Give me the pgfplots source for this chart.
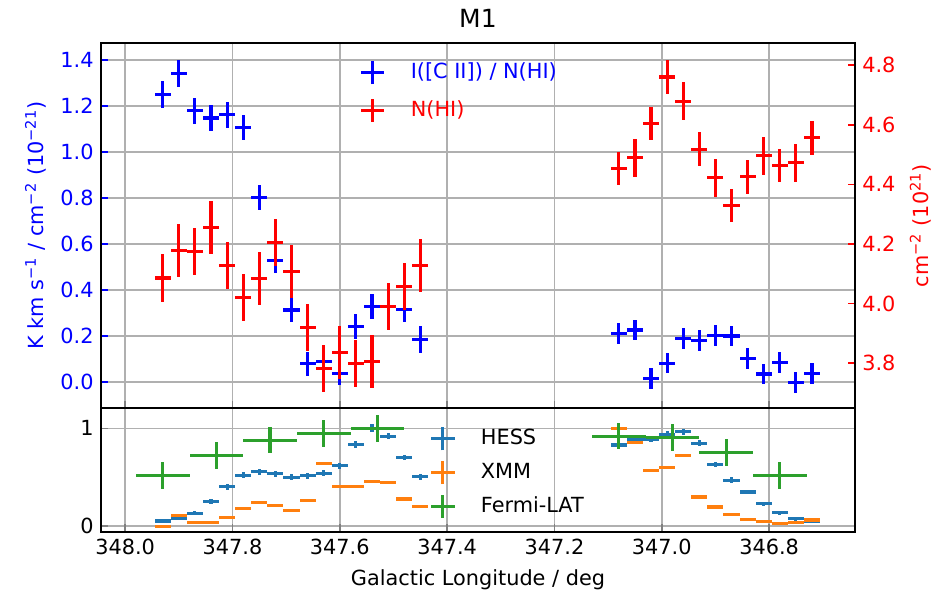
\documentclass[border=0pt]{standalone}
\usepackage{fontspec}
\setmainfont{DejaVu Sans}
\usepackage{pgfplots}
\pgfplotsset{compat=1.18}
\usepackage{pgfplotstable}

\definecolor{tabblue}{HTML}{1F77B4}
\definecolor{taborange}{HTML}{FF7F0E}
\definecolor{tabgreen}{HTML}{2CA02C}
\definecolor{gridgray}{HTML}{B0B0B0}

% I([C II]) / N(HI), left axis of the upper panel
\pgfplotstableread{
x      y      ex     ey
347.93 1.249  0.015  0.058
347.90 1.343  0.015  0.058
347.87 1.180  0.015  0.056
347.84 1.148  0.015  0.056
347.81 1.162  0.015  0.056
347.78 1.107  0.015  0.056
347.75 0.803  0.015  0.054
347.72 0.529  0.015  0.054
347.69 0.314  0.015  0.053
347.66 0.080  0.015  0.053
347.63 0.090  0.015  0.053
347.60 0.039  0.015  0.053
347.57 0.242  0.015  0.055
347.54 0.329  0.015  0.055
347.51 0.329  0.015  0.055
347.48 0.317  0.015  0.055
347.45 0.187  0.015  0.058
347.08 0.213  0.015  0.045
347.05 0.227  0.015  0.045
347.02 0.017  0.015  0.045
346.99 0.083  0.015  0.045
346.96 0.191  0.015  0.045
346.93 0.181  0.015  0.045
346.90 0.204  0.015  0.045
346.87 0.201  0.015  0.045
346.84 0.104  0.015  0.045
346.81 0.036  0.015  0.045
346.78 0.085  0.015  0.045
346.75 0.000  0.015  0.045
346.72 0.039  0.015  0.045
}\cii

% N(HI), right axis
\pgfplotstableread{
x      y      ex     ey
347.93 4.086  0.015  0.079
347.90 4.177  0.015  0.089
347.87 4.175  0.015  0.079
347.84 4.256  0.015  0.089
347.81 4.127  0.015  0.079
347.78 4.021  0.015  0.079
347.75 4.085  0.015  0.089
347.72 4.205  0.015  0.079
347.69 4.109  0.015  0.089
347.66 3.921  0.015  0.079
347.63 3.783  0.015  0.079
347.60 3.836  0.015  0.089
347.57 3.798  0.015  0.079
347.54 3.805  0.015  0.089
347.51 3.990  0.015  0.079
347.48 4.057  0.015  0.079
347.45 4.129  0.015  0.089
347.08 4.453  0.015  0.056
347.05 4.489  0.015  0.064
347.02 4.604  0.015  0.056
346.99 4.760  0.015  0.056
346.96 4.679  0.015  0.064
346.93 4.518  0.015  0.056
346.90 4.422  0.015  0.064
346.87 4.330  0.015  0.056
346.84 4.425  0.015  0.056
346.81 4.496  0.015  0.064
346.78 4.464  0.015  0.056
346.75 4.473  0.015  0.064
346.72 4.556  0.015  0.056
}\nhi

\pgfplotstableread{
x      y      ex     ey
347.93 0.052  0.015  0.020
347.90 0.083  0.015  0.020
347.87 0.130  0.015  0.020
347.84 0.250  0.015  0.025
347.81 0.401  0.015  0.030
347.78 0.521  0.015  0.030
347.75 0.555  0.015  0.030
347.72 0.534  0.015  0.030
347.69 0.500  0.015  0.030
347.66 0.514  0.015  0.030
347.63 0.541  0.015  0.030
347.60 0.616  0.015  0.030
347.57 0.839  0.015  0.035
347.54 1.000  0.015  0.040
347.51 0.921  0.015  0.035
347.48 0.702  0.015  0.030
347.45 0.503  0.015  0.030
347.08 0.829  0.015  0.030
347.05 0.887  0.015  0.030
347.02 0.887  0.015  0.030
346.99 0.938  0.015  0.030
346.96 0.965  0.015  0.030
346.93 0.846  0.015  0.030
346.90 0.630  0.015  0.030
346.87 0.469  0.015  0.030
346.84 0.349  0.015  0.020
346.81 0.230  0.015  0.020
346.78 0.138  0.015  0.020
346.75 0.076  0.015  0.020
346.72 0.051  0.015  0.020
}\hess

\pgfplotstableread{
x      y      ex     ey
347.93 0.000  0.015  0
347.90 0.110  0.015  0
347.87 0.041  0.015  0
347.84 0.035  0.015  0
347.81 0.086  0.015  0
347.78 0.178  0.015  0
347.75 0.243  0.015  0
347.72 0.212  0.015  0
347.69 0.161  0.015  0
347.66 0.260  0.015  0
347.63 0.637  0.015  0
347.60 0.408  0.015  0
347.57 0.401  0.015  0
347.54 0.456  0.015  0
347.51 0.442  0.015  0
347.48 0.277  0.015  0
347.45 0.202  0.015  0
347.08 1.000  0.015  0
347.05 0.856  0.015  0
347.02 0.569  0.015  0
346.99 0.603  0.015  0
346.96 0.726  0.015  0
346.93 0.298  0.015  0
346.90 0.195  0.015  0
346.87 0.123  0.015  0
346.84 0.069  0.015  0
346.81 0.051  0.015  0
346.78 0.031  0.015  0
346.75 0.041  0.015  0
346.72 0.062  0.015  0
}\xmm

\pgfplotstableread{
x      y      ex     ey
347.93 0.520  0.05   0.137
347.83 0.726  0.05   0.137
347.73 0.880  0.05   0.137
347.63 0.949  0.05   0.137
347.53 1.000  0.05   0.137
347.08 0.921  0.05   0.137
346.98 0.907  0.05   0.137
346.88 0.753  0.05   0.137
346.78 0.520  0.05   0.137
}\fermi

\pgfplotsset{
  m1/.style={
    scale only axis, width=361.9pt,
    xmin=346.64, xmax=348.045, x dir=reverse,
    xtick={346.8,347.0,347.2,347.4,347.6,347.8,348.0},
    tick align=inside, major tick length=3.5pt,
    tick style={line width=0.8pt},
    axis line style={line width=0.8pt},
    major grid style={line width=0.8pt, gridgray},
    /pgf/number format/assume math mode=true,
    legend cell align=left,
  },
  crossleg/.style={legend image code/.code={
    \path[draw=none] (0pt,0pt) -- (24.8pt,0pt);
    \draw[line width=1.5pt, draw=#1] (0.3cm,-5.6pt)--(0.3cm,5.6pt) (0.3cm-5.6pt,0pt)--(0.3cm+5.6pt,0pt);}},
  errs/.style={draw=none, mark=none,
    error bars/x dir=both, error bars/x explicit,
    error bars/y dir=both, error bars/y explicit,
    error bars/error mark=none,
    error bars/error bar style={line width=1.5pt, draw=#1, solid}},
}

\begin{document}
\begin{tikzpicture}
\begin{axis}[m1, name=top, at={(0,0)}, anchor=south west, height=175.2pt,
  ymin=-0.112, ymax=1.474, ytick={0,0.2,0.4,0.6,0.8,1.0,1.2,1.4},
  xticklabels={}, xtick pos=bottom, ytick pos=left,
  grid=major,
  y tick label style={blue, /pgf/number format/.cd, fixed, fixed zerofill, precision=1},
  y tick style={blue},
  ylabel={K km s\textsuperscript{−1} / cm\textsuperscript{−2} (10\textsuperscript{−21})},
  ylabel style={blue},
  title={M1}, title style={font=\fontsize{12}{14}\selectfont, yshift=-2.3pt},
]
\addplot[errs=blue] table[x=x, y=y, x error=ex, y error=ey] {\cii};
\end{axis}

\begin{axis}[m1, at={(0,0)}, anchor=south west, height=175.2pt,
  axis y line*=right, axis x line=none,
  ymin=3.650, ymax=4.874, ytick={3.8,4.0,4.2,4.4,4.6,4.8},
  y tick label style={red, /pgf/number format/.cd, fixed, fixed zerofill, precision=1},
  y tick style={red},
  ylabel={cm\textsuperscript{−2} (10\textsuperscript{21})},
  ylabel style={red},
  legend style={draw=none, fill=none, row sep=5.0pt,
    at={(axis description cs:0.328,0.969)}, anchor=north west},
]
\addlegendimage{crossleg=blue, draw=none}
\addplot[crossleg=red, errs=red] table[x=x, y=y, x error=ex, y error=ey] {\nhi};
\legend{\textcolor{blue}{I([C II]) / N(HI)}, \textcolor{red}{N(HI)}}
\end{axis}

\begin{axis}[m1, at={(top.south west)}, anchor=north west, height=59.4pt,
  ymin=-0.058, ymax=1.208, ytick={0,1},
  xtick pos=bottom, ytick pos=left, grid=major,
  x tick label style={/pgf/number format/.cd, fixed, fixed zerofill, precision=1},
  xlabel={Galactic Longitude / deg},
  legend style={draw=none, fill=none, row sep=3.3pt,
    at={(axis description cs:0.421,0.898)}, anchor=north west},
]
\addplot[crossleg=tabblue, errs=tabblue] table[x=x, y=y, x error=ex, y error=ey] {\hess};
\addplot[crossleg=taborange, errs=taborange] table[x=x, y=y, x error=ex, y error=ey] {\xmm};
\addplot[crossleg=tabgreen, errs=tabgreen] table[x=x, y=y, x error=ex, y error=ey] {\fermi};
\legend{HESS, XMM, Fermi-LAT}
\end{axis}

\pgfresetboundingbox
\path ([shift={(-48.48pt,20.64pt)}]top.north west) rectangle ([shift={(408pt,-89.28pt)}]top.south west);
\end{tikzpicture}
\end{document}
